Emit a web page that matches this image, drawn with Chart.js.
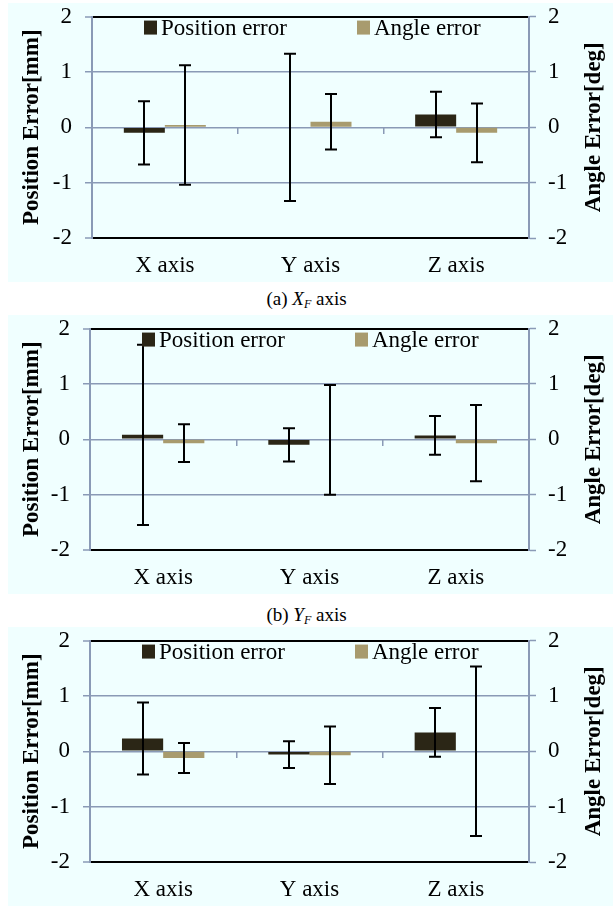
<!DOCTYPE html>
<html>
<head>
<meta charset="utf-8">
<script src="https://cdn.jsdelivr.net/npm/chart.js@4.4.0/dist/chart.umd.min.js"></script>
<style>
  body { margin: 0; background: #fff; width: 613px; height: 910px; position: relative; overflow: hidden;
         font-family: "Liberation Serif", "Times New Roman", serif; }
  .panel { position: absolute; left: 8px; width: 605px; height: 279px; background: #F0FFFF; }
  .caption { position: absolute; left: 0; width: 613px; text-align: center; font-size: 19px; line-height: 22px; color: #000; }
  .caption sub { font-size: 12px; vertical-align: -3px; }
</style>
</head>
<body>
<div class="panel" style="top:3px"><canvas id="chartA"></canvas></div>
<div class="caption" style="top:288px">(a) <i>X<sub>F</sub></i> axis</div>
<div class="panel" style="top:315px"><canvas id="chartB"></canvas></div>
<div class="caption" style="top:604px">(b) <i>Y<sub>F</sub></i> axis</div>
<div class="panel" style="top:627px"><canvas id="chartC"></canvas></div>

<script>
// datos
const categories = ["X axis", "Y axis", "Z axis"];
const seriesNames = ["Position error", "Angle error"];
const axisMin = -2;
const axisMax = 2;

// (a) X_F axis
const posMeanA = [-0.10, 0.00, 0.23];
const posErrA = [0.57, 1.33, 0.41];
const angMeanA = [0.04, 0.10, -0.10];
const angErrA = [1.08, 0.50, 0.53];

// (b) Y_F axis
const posMeanB = [0.08, -0.10, 0.07];
const posErrB = [1.63, 0.30, 0.35];
const angMeanB = [-0.07, -0.01, -0.07];
const angErrB = [0.34, 0.99, 0.69];

// (c) Z_F axis
const posMeanC = [0.23, -0.06, 0.34];
const posErrC = [0.65, 0.24, 0.44];
const angMeanC = [-0.12, -0.07, 0.00];
const angErrC = [0.27, 0.52, 1.53];

const colorPos = "#2B2616";
const colorAng = "#A89B6E";
const gridGray = "#8A9AB6";
const fontName = "'Liberation Serif', 'Times New Roman', serif";
const xTickFont = { family: fontName, size: 23, lineHeight: 1.13 };
// lineHeight casi cero para que Chart.js no agregue espacio arriba del "2"
const yTickFont = { family: fontName, size: 23, lineHeight: 0.05 };

// barras de error (no vienen en Chart.js)
const errorBars = {
  id: "errorBars",
  afterDatasetsDraw(chart) {
    const ctx = chart.ctx;
    ctx.save();
    ctx.strokeStyle = "#000";
    ctx.lineWidth = 2;
    chart.data.datasets.forEach((ds, i) => {
      const meta = chart.getDatasetMeta(i);
      const scale = chart.scales[meta.yAxisID];
      meta.data.forEach((bar, j) => {
        const top = scale.getPixelForValue(ds.data[j] + ds.errors[j]);
        const bottom = scale.getPixelForValue(ds.data[j] - ds.errors[j]);
        const x = Math.round(bar.x);
        ctx.beginPath();
        ctx.moveTo(x, top);
        ctx.lineTo(x, bottom);
        ctx.moveTo(x - 6, top);
        ctx.lineTo(x + 6, top);
        ctx.moveTo(x - 6, bottom);
        ctx.lineTo(x + 6, bottom);
        ctx.stroke();
      });
    });
    ctx.restore();
  }
};

// leyenda dentro del area y titulo del eje derecho
const extras = {
  id: "extras",
  afterDraw(chart) {
    const ctx = chart.ctx;
    const area = chart.chartArea;
    ctx.save();
    ctx.font = "23px " + fontName;
    ctx.textBaseline = "middle";
    ctx.fillStyle = "#000";
    const offsets = [52, 265];
    chart.data.datasets.forEach((ds, i) => {
      const bx = area.left + offsets[i];
      const cy = area.top + 11;
      ctx.fillStyle = ds.backgroundColor;
      ctx.fillRect(bx, cy - 7, 13, 14);
      ctx.fillStyle = "#000";
      ctx.fillText(ds.label, bx + 17, cy + 1);
    });

    // titulo derecho, leido de abajo hacia arriba
    ctx.font = "bold 23px " + fontName;
    ctx.textAlign = "center";
    ctx.translate(chart.width - 19, (area.top + area.bottom) / 2);
    ctx.rotate(-Math.PI / 2);
    ctx.fillText("Angle Error[deg]", 0, 0);
    ctx.restore();
  }
};

function crearGrafico(id, posMean, posErr, angMean, angErr, leftWidth) {
  const ctx = document.getElementById(id);
  return new Chart(ctx, {
    type: "bar",
    data: {
      labels: categories,
      datasets: [
        {
          label: seriesNames[0],
          data: posMean,
          errors: posErr,
          backgroundColor: colorPos,
          yAxisID: "y",
          categoryPercentage: 0.563,
          barPercentage: 1.0,
        },
        {
          label: seriesNames[1],
          data: angMean,
          errors: angErr,
          backgroundColor: colorAng,
          yAxisID: "y2",
          categoryPercentage: 0.563,
          barPercentage: 1.0,
        },
      ],
    },
    options: {
      responsive: true,
      maintainAspectRatio: false,
      animation: false,
      layout: { padding: 0 },
      plugins: { legend: { display: false }, tooltip: { enabled: false } },
      scales: {
        x: {
          position: "bottom",
          grid: { display: false, drawTicks: false },
          border: { color: "#000", width: 2 },
          ticks: { font: xTickFont, color: "#000", padding: 15 },
          afterFit: (s) => { s.height = 44; },
        },
        xZero: {
          axis: "x",
          type: "category",
          labels: categories,
          position: { y: 0 },
          offset: true,
          ticks: { display: false },
          grid: { offset: true, drawOnChartArea: false, tickLength: 7, tickColor: gridGray, lineWidth: 1.5 },
          border: { display: false },
        },
        y: {
          position: "left",
          min: axisMin,
          max: axisMax,
          ticks: { stepSize: 1, font: yTickFont, color: "#000", padding: 13 },
          grid: {
            color: (c) => (Math.abs(c.tick.value) === 2 ? "#000" : gridGray),
            lineWidth: (c) => (Math.abs(c.tick.value) === 2 ? 2 : 1.5),
            tickColor: gridGray,
            tickWidth: 1.5,
            tickLength: 7,
          },
          border: { color: gridGray, width: 2 },
          title: {
            display: true,
            text: "Position Error[mm]",
            color: "#000",
            font: { family: fontName, size: 23, weight: "bold", lineHeight: 1.2 },
            padding: { top: 10, bottom: 0 },
          },
          afterFit: (s) => { s.width = leftWidth; },
        },
        y2: {
          position: "right",
          min: axisMin,
          max: axisMax,
          ticks: { stepSize: 1, font: yTickFont, color: "#000", padding: 12 },
          grid: { drawOnChartArea: false, tickColor: gridGray, tickWidth: 1.5, tickLength: 7 },
          border: { color: gridGray, width: 2 },
          afterFit: (s) => { s.width = 84; },
        },
      },
    },
    plugins: [errorBars, extras],
  });
}

crearGrafico("chartA", posMeanA, posErrA, angMeanA, angErrA, 84);
crearGrafico("chartB", posMeanB, posErrB, angMeanB, angErrB, 82);
crearGrafico("chartC", posMeanC, posErrC, angMeanC, angErrC, 82);
</script>
</body>
</html>
